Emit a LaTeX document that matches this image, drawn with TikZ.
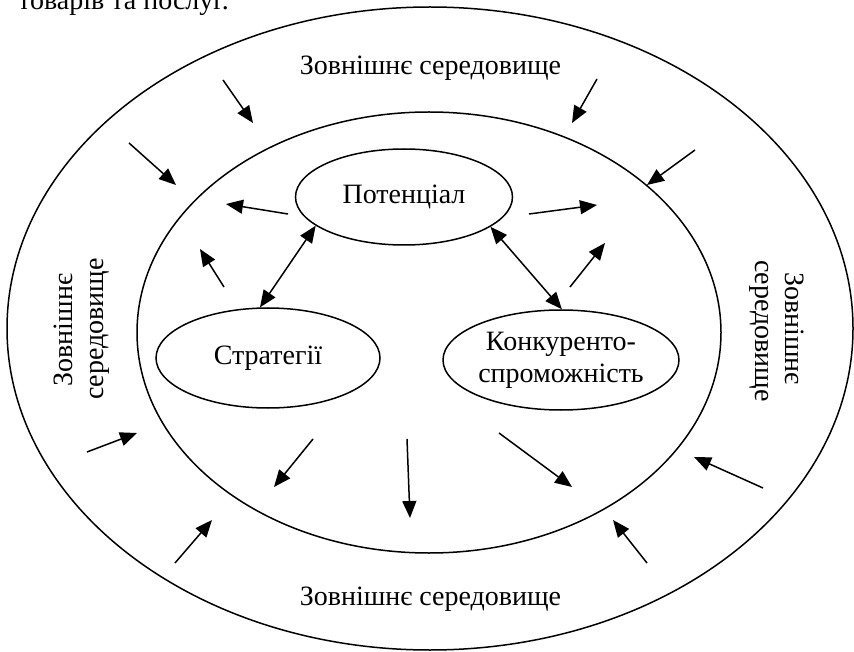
\documentclass[tikz,border=0pt]{standalone}
\usepackage{fontspec}
\setmainfont{Liberation Serif}
\usetikzlibrary{arrows.meta,shapes.geometric}
\begin{document}
\begin{tikzpicture}[x=1pt,y=-1pt,
  lbl/.style={font=\fontsize{28}{32}\selectfont, inner sep=0pt},
  shell/.style={draw, ellipse, line width=1.5pt, inner sep=0pt},
  arr/.style={line width=1.5pt, -{Triangle[length=17pt,width=14pt]}},
  darr/.style={line width=1.5pt, {Triangle[length=17pt,width=14pt]}-{Triangle[length=17pt,width=14pt]}}
]
\useasboundingbox (0,0) rectangle (854,652);
\clip (0,0) rectangle (854,652);
\fill[white] (0,0) rectangle (854,652);

% partial caption at the top
\node[lbl, anchor=base west] (cap) at (18,10) {товарів та послуг.};

% shells
\node[shell, minimum width=846pt, minimum height=643pt] (outer) at (430,328.5) {};
\node[shell, minimum width=584pt, minimum height=441pt] (inner) at (429,332.5) {};

% inner ellipses
\node[shell, lbl, minimum width=217pt, minimum height=96pt] (pot) at (404,197) {Потенціал};
\node[shell, lbl, minimum width=224pt, minimum height=100pt] (str) at (268,358) {Стратегії};
\node[shell, lbl, align=center, minimum width=236pt, minimum height=100pt] (kon) at (561,360) {Конкуренто-\\спроможність};

% environment labels
\node[lbl, anchor=base] (envt) at (430.5,75) {Зовнішнє середовище};
\node[lbl, anchor=base] (envb) at (430.5,605) {Зовнішнє середовище};
\node[lbl, anchor=base, rotate=90] (envl1) at (72,330) {Зовнішнє};
\node[lbl, anchor=base, rotate=90] (envl2) at (103,329) {середовище};
\node[lbl, anchor=base, rotate=-90] (envr1) at (785,328.5) {Зовнішнє};
\node[lbl, anchor=base, rotate=-90] (envr2) at (755,331) {середовище};

% double arrows between ellipses
\draw[darr] (pot.198) -- (str.99);
\draw[darr] (pot.341) -- (kon.89);

% free arrows
\coordinate (a1s) at (223,80);  \coordinate (a1e) at (253,123);
\coordinate (a2s) at (129,143); \coordinate (a2e) at (176,185);
\coordinate (a3s) at (288,214); \coordinate (a3e) at (226,204);
\coordinate (a4s) at (224,287); \coordinate (a4e) at (200,249);
\coordinate (a6s) at (597,79);  \coordinate (a6e) at (572,123);
\coordinate (a7s) at (695,150); \coordinate (a7e) at (647,185);
\coordinate (a8s) at (529,214); \coordinate (a8e) at (597,205);
\coordinate (a9s) at (570,287); \coordinate (a9e) at (605,243);
\coordinate (b1s) at (87,452);  \coordinate (b1e) at (137,433);
\coordinate (b2s) at (313,439); \coordinate (b2e) at (274,487);
\coordinate (b3s) at (175,563); \coordinate (b3e) at (212,520);
\coordinate (b4s) at (407,439); \coordinate (b4e) at (410,518);
\coordinate (b5s) at (499,433); \coordinate (b5e) at (572,487);
\coordinate (b6s) at (763,488); \coordinate (b6e) at (694,457);
\coordinate (b7s) at (647,563); \coordinate (b7e) at (613,520);

\foreach \a in {a1,a2,a3,a4,a6,a7,a8,a9,b1,b2,b3,b4,b5,b6,b7}
  \draw[arr] (\a s) -- (\a e);
\end{tikzpicture}
\end{document}
